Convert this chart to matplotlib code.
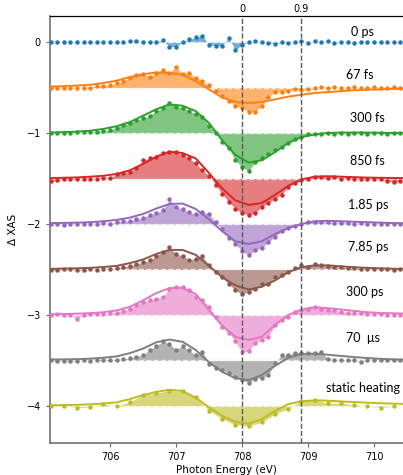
import numpy as np
import matplotlib
matplotlib.use("Agg")
import matplotlib.pyplot as plt

# measured delta spectra (relative to each trace's baseline), 0.1 eV grid 705.1 .. 710.4
energy = np.round(np.arange(705.1, 710.45, 0.1), 2)
# static heating was sampled every 0.2 eV
energy_static = np.round(np.arange(705.1, 710.35, 0.2), 2)
# fit curves, sampled every 0.2 eV 705.1 .. 710.5
energy_fit = np.round(np.arange(705.1, 710.55, 0.2), 2)

d_0ps = [0.0, 0.005, 0.0, 0.005, 0.0, 0.0, 0.0, 0.005, 0.0, 0.0,
         0.005, 0.0, 0.01, 0.01, 0.0, 0.0, 0.005, 0.02, -0.05, -0.05,
         0.0, 0.03, 0.05, 0.07, -0.03, -0.04, -0.04, 0.045, -0.09, -0.03,
         0.0, 0.01, 0.005, -0.01, -0.02, 0.0, -0.01, 0.0, 0.01, -0.015,
         0.01, -0.005, 0.01, -0.01, 0.0, 0.005, -0.01, 0.0, 0.0, -0.005,
         0.005, -0.005, 0.0, 0.0]
d_67fs = [-0.01, -0.01, -0.005, 0.0, 0.0, 0.0, 0.0, 0.02, 0.02, 0.025,
          0.045, 0.07, 0.11, 0.135, 0.145, 0.12, 0.165, 0.195, 0.165, 0.23,
          0.15, 0.165, 0.11, 0.07, 0.025, -0.035, -0.09, -0.15, -0.2, -0.22,
          -0.27, -0.27, -0.2, -0.1, -0.05, -0.05, -0.04, -0.02, -0.03, -0.02,
          -0.01, 0.01, 0.0, 0.005, -0.005, 0.0, 0.005, -0.005, 0.0, 0.005,
          -0.005, 0.0, 0.005, -0.01]
d_300fs = [0.0, 0.0, 0.0, 0.0, 0.007, 0.007, 0.007, 0.015, 0.022, 0.03,
           0.06, 0.085, 0.11, 0.14, 0.16, 0.19, 0.24, 0.27, 0.33, 0.29,
           0.28, 0.24, 0.21, 0.18, 0.08, 0.0, -0.1, -0.17, -0.3, -0.37,
           -0.42, -0.32, -0.28, -0.23, -0.19, -0.15, -0.11, -0.07, -0.04, -0.015,
           -0.015, -0.01, 0.0, -0.01, -0.005, -0.01, 0.0, -0.005, -0.01, 0.0,
           -0.005, -0.01, -0.005, -0.005]
d_850fs = [-0.03, -0.02, -0.01, -0.01, -0.01, -0.01, -0.005, 0.0, 0.01, 0.01,
           0.045, 0.06, 0.075, 0.11, 0.2, 0.22, 0.24, 0.275, 0.29, 0.29,
           0.26, 0.22, 0.165, 0.09, 0.03, -0.07, -0.17, -0.26, -0.33, -0.38,
           -0.4, -0.38, -0.31, -0.27, -0.22, -0.18, -0.09, -0.05, -0.02, 0.0,
           0.015, 0.015, 0.01, 0.015, 0.0, 0.005, -0.01, 0.0, -0.01, 0.0,
           -0.01, -0.03, -0.04, -0.03]
d_185ps = [0.0, -0.005, -0.01, -0.005, 0.0, 0.0, 0.0, 0.0, 0.01, 0.005,
           0.02, 0.03, 0.035, 0.05, 0.07, 0.1, 0.12, 0.15, 0.27, 0.19,
           0.165, 0.13, 0.11, 0.13, 0.11, 0.02, -0.06, -0.15, -0.22, -0.3,
           -0.34, -0.29, -0.26, -0.2, -0.14, -0.08, -0.04, -0.02, 0.0, 0.02,
           0.025, 0.02, 0.02, 0.01, 0.015, 0.01, 0.005, 0.01, 0.0, 0.005,
           0.0, 0.0, 0.005, 0.0]
d_785ps = [-0.005, -0.01, 0.005, 0.005, -0.01, -0.005, 0.0, -0.005, 0.005, 0.005,
           0.015, 0.03, 0.04, 0.06, 0.08, 0.1, 0.15, 0.19, 0.245, 0.17,
           0.15, 0.105, 0.12, 0.15, 0.045, -0.03, -0.085, -0.16, -0.23, -0.27,
           -0.25, -0.21, -0.16, -0.16, -0.085, -0.065, -0.03, 0.02, 0.045, 0.03,
           0.055, 0.045, 0.035, 0.03, 0.025, 0.02, 0.015, 0.01, 0.005, 0.005,
           0.0, 0.005, -0.005, 0.0]
d_300ps = [0.0, 0.01, 0.0, 0.0, -0.04, 0.0, 0.015, 0.01, 0.01, 0.02,
           0.025, 0.045, 0.07, 0.11, 0.145, 0.165, 0.18, 0.2, 0.29, 0.31,
           0.31, 0.27, 0.2, 0.17, 0.09, -0.02, -0.13, -0.2, -0.29, -0.41,
           -0.4, -0.31, -0.27, -0.24, -0.11, -0.06, -0.02, 0.035, 0.055, 0.07,
           0.085, 0.07, 0.06, 0.055, 0.035, 0.025, 0.02, 0.02, 0.015, 0.01,
           0.01, 0.0, 0.0, 0.0]
d_70us = [0.0, -0.005, -0.005, -0.005, -0.005, 0.0, -0.005, 0.005, 0.01, 0.01,
          0.01, 0.015, 0.03, 0.04, 0.06, 0.12, 0.16, 0.21, 0.18, 0.12,
          0.16, 0.11, 0.06, 0.095, -0.04, -0.08, -0.1, -0.14, -0.18, -0.21,
          -0.25, -0.2, -0.19, -0.16, -0.03, 0.06, 0.06, 0.085, 0.085, 0.08,
          0.085, 0.095, 0.02, 0.01, 0.01, 0.005, 0.01, -0.015, 0.005, 0.005,
          0.01, 0.005, 0.0, 0.0]
d_static = [0.005, 0.005, -0.02, -0.01, 0.02, 0.0, 0.045, 0.12, 0.14, 0.17,
            0.16, 0.095, -0.05, -0.14, -0.21, -0.22, -0.18, -0.09, -0.03, 0.06,
            0.065, 0.03, 0.03, 0.015, 0.0, -0.02, 0.0]

f_67fs = [0.01, 0.015, 0.022, 0.03, 0.05, 0.075, 0.115, 0.145, 0.165, 0.16,
          0.14, 0.07, -0.02, -0.11, -0.16, -0.17, -0.16, -0.13, -0.1, -0.08,
          -0.06, -0.05, -0.04, -0.03, -0.025, -0.02, -0.015, -0.01]
f_300fs = [0.005, 0.01, 0.015, 0.025, 0.045, 0.075, 0.12, 0.19, 0.26, 0.315,
           0.3, 0.24, 0.11, -0.08, -0.24, -0.325, -0.3, -0.21, -0.11, -0.045,
           -0.015, 0.0, 0.005, 0.005, 0.005, 0.003, 0.0, 0.0]
f_850fs = [0.005, 0.008, 0.012, 0.02, 0.03, 0.05, 0.09, 0.16, 0.24, 0.295,
           0.28, 0.22, 0.06, -0.11, -0.24, -0.29, -0.27, -0.18, -0.08, -0.01,
           0.02, 0.025, 0.02, 0.015, 0.01, 0.008, 0.005, 0.005]
f_185ps = [0.01, 0.012, 0.015, 0.02, 0.03, 0.045, 0.07, 0.11, 0.17, 0.22,
           0.225, 0.165, 0.05, -0.08, -0.19, -0.22, -0.19, -0.11, -0.045, 0.0,
           0.03, 0.035, 0.03, 0.025, 0.02, 0.015, 0.01, 0.008]
f_785ps = [0.007, 0.01, 0.013, 0.018, 0.027, 0.04, 0.07, 0.11, 0.17, 0.215,
           0.215, 0.16, 0.04, -0.085, -0.175, -0.22, -0.19, -0.12, -0.03, 0.025,
           0.045, 0.045, 0.035, 0.025, 0.018, 0.012, 0.008, 0.005]
f_300ps = [0.007, 0.01, 0.015, 0.02, 0.03, 0.05, 0.09, 0.16, 0.24, 0.295,
           0.3, 0.23, 0.055, -0.12, -0.24, -0.275, -0.24, -0.11, 0.0, 0.06,
           0.085, 0.075, 0.06, 0.045, 0.03, 0.022, 0.018, 0.015]
f_70us = [0.01, 0.012, 0.015, 0.02, 0.03, 0.045, 0.08, 0.13, 0.2, 0.23,
          0.205, 0.115, -0.02, -0.125, -0.195, -0.215, -0.16, -0.06, 0.03, 0.07,
          0.075, 0.063, 0.05, 0.037, 0.027, 0.018, 0.012, 0.008]
f_static = [0.007, 0.01, 0.013, 0.018, 0.027, 0.04, 0.075, 0.12, 0.155, 0.178,
            0.165, 0.09, -0.015, -0.11, -0.175, -0.195, -0.145, -0.055, 0.02, 0.052,
            0.062, 0.058, 0.05, 0.043, 0.036, 0.03, 0.026, 0.022]

offsets = [0, -0.5, -1.0, -1.5, -2.0, -2.5, -3.0, -3.5, -4.0]
labels = ["0 ps", "67 fs", "300 fs", "850 fs", "1.85 ps", "7.85 ps",
          "300 ps", "70  μs", "static heating"]
data = [d_0ps, d_67fs, d_300fs, d_850fs, d_185ps, d_785ps, d_300ps, d_70us, d_static]
fits = [None, f_67fs, f_300fs, f_850fs, f_185ps, f_785ps, f_300ps, f_70us, f_static]

# label anchor positions (data coords)
label_x = [709.65, 709.58, 709.64, 709.64, 709.61, 709.61, 709.58, 709.58, 709.28]
label_y = [0.11, -0.363, -0.835, -1.31, -1.79, -2.25, -2.75, -3.25, -3.80]

colors = plt.rcParams["axes.prop_cycle"].by_key()["color"]

fig = plt.figure(figsize=(4.03, 4.75), dpi=100)
ax = fig.add_axes([50 / 403, 32 / 475, 353 / 403, 427 / 475])

for i, (vals, fit, off) in enumerate(zip(data, fits, offsets)):
    c = colors[i]
    e = energy_static if len(vals) == len(energy_static) else energy
    y = off + np.array(vals)
    ax.fill_between(e, y, off, color=c, alpha=0.6, lw=0, interpolate=True, zorder=1)
    ax.axhline(off, color="white", ls="--", lw=1.0, alpha=0.8, zorder=2)
    ax.axhline(off, color=c, ls="--", lw=1.0, alpha=0.25, zorder=1.5)
    ax.plot(e, y, "o", color=c, ms=3.2, mec="none", zorder=3)
    if fit is not None:
        ax.plot(energy_fit, off + np.array(fit), "-", color=c, lw=1.4, zorder=4)

for x0 in [708.0, 708.9]:
    ax.axvline(x0, color="0.35", ls="--", lw=1.0, zorder=5)

for txt, tx, ty in zip(labels, label_x, label_y):
    ax.text(tx, ty, txt, fontsize=9, family=["Lato", "DejaVu Sans"], va="center", ha="left")

ax.set_xlim(705.09, 710.44)
ax.set_ylim(-4.407, 0.286)
ax.set_xticks([706, 707, 708, 709, 710])
ax.set_yticks([0, -1, -2, -3, -4])
ax.tick_params(labelsize=7, length=3, color="0.4")
ax.set_xlabel("Photon Energy (eV)", fontsize=7.5, labelpad=2)
ax.set_ylabel("Δ XAS", fontsize=7.5, labelpad=6)
ax.spines["right"].set_visible(False)
for side in ["left", "bottom"]:
    ax.spines[side].set_color("0.45")
    ax.spines[side].set_linewidth(1.2)

top = ax.secondary_xaxis("top")
top.set_xticks([708.0, 708.9])
top.set_xticklabels(["0", "0.9"])
top.tick_params(length=0, labelsize=7, pad=1.5)

fig.savefig("out.png", dpi=100)
